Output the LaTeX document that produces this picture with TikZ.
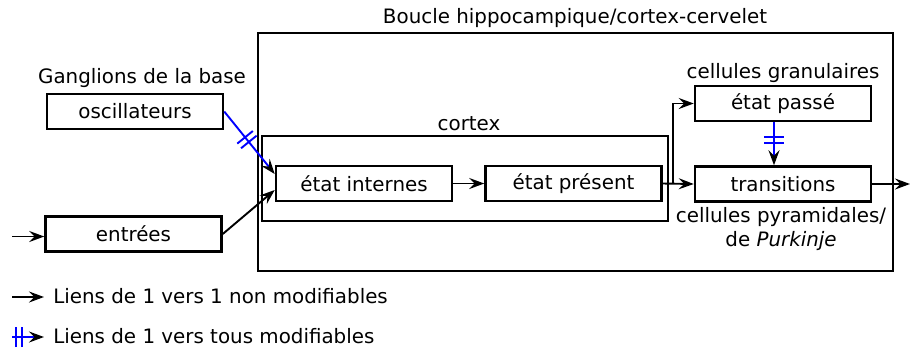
\documentclass[tikz,border=0pt]{standalone}
\usepackage{fontspec}
\setmainfont{DejaVu Sans}
\usetikzlibrary{arrows.meta,decorations.markings,positioning}
\tikzset{
    loop diagram/.style = {x=0.2mm, y=-0.2mm,
                           >={Stealth[length=3mm, width=2.2mm, inset=1.1mm]},
                           font=\fontsize{11.3}{13.6}\selectfont},
    block/.style        = {draw, line width=0.5mm, inner sep=0pt,
                           minimum height=7mm, minimum width=35.2mm},
    frame/.style        = {draw, line width=0.5mm, inner sep=0pt},
    subframe/.style     = {draw, line width=0.35mm, inner sep=0pt},
    lbl/.style          = {inner sep=0pt},
    link/.style         = {->, line width=0.38mm},
    modlink/.style      = {link, draw=blue,
                           -{Stealth[length=3mm, width=2.2mm, inset=1.1mm, color=black]},
                           decoration={markings, mark=at position #1 with
                             {\draw[blue, arrows=-, line width=0.38mm]
                               (-0.6mm,-2mm) -- (-0.6mm,2mm)
                               (0.6mm,-2mm) -- (0.6mm,2mm);}},
                           postaction={decorate}},
    modlink/.default    = 0.5
}

\begin{document}
\begin{tikzpicture}[loop diagram]
\useasboundingbox (0,0) rectangle (910,349);

% ================= Enclosures =================
\node[frame, minimum width=127mm, minimum height=47.6mm] (boucle) at (575.5,152) {};
\node[lbl] (bouclename) at (575,18.5) {Boucle hippocampique/cortex-cervelet};
\node[subframe, minimum width=81.2mm, minimum height=17mm] (cortex) at (465,178.5) {};
\node[lbl] (cortexname) at (469,123.5) {cortex};

% ================= Ganglions de la base and inputs =================
\node[block] (osc) at (135,111.5) {oscillateurs};
\node[lbl] (ganglions) at (142,78) {Ganglions de la base};
\node[block] (entrees) at (133.5,234) {entrées};

% ================= Cortex states =================
\node[block] (internes) at (364,183.5) {état internes};
\node[block] (present) at (573.5,183.5) {état présent};

% ================= Cerebellum / hippocampus =================
\node[block] (passe) at (783,103.5) {état passé};
\node[lbl] (granul) at (783,73) {cellules granulaires};
\node[block] (trans) at (783,184) {transitions};
\node[lbl, align=center] (pyram) at (781,229) {cellules pyramidales/\\de \textit{Purkinje}};

% ================= Links =================
\coordinate (in) at (12,236.5);
\coordinate (out) at (910,185);
\coordinate (split) at (673,184);
\draw[link] (in) -- (in -| entrees.west);
\draw[modlink=0.45] (osc.east) -- ([yshift=1.9mm]internes.west);
\draw[link] (entrees.east) -- ([yshift=-1.3mm]internes.west);
\draw[link] (internes.east) -- (present.west);
\draw[link] (present.east) -- (trans.west);
\draw[link] (split) |- (passe.west);
\draw[modlink=0.42] ([xshift=-1.8mm]passe.south) -- ([xshift=-1.8mm]trans.north);
\draw[link] (trans.east) -- (trans.east -| out);

% ================= Legend =================
\node[lbl, anchor=west] (leg1) at (53,296) {Liens de 1 vers 1 non modifiables};
\node[lbl, anchor=west] (leg2) at (53,336) {Liens de 1 vers tous modifiables};
\coordinate (leg1start) at (12,297);
\coordinate (leg2start) at (12,337);
\draw[link] (leg1start) -- ([xshift=-1.8mm]leg1.west |- leg1start);
\draw[modlink=0.22] (leg2start) -- ([xshift=-1.8mm]leg2.west |- leg2start);

\end{tikzpicture}
\end{document}
